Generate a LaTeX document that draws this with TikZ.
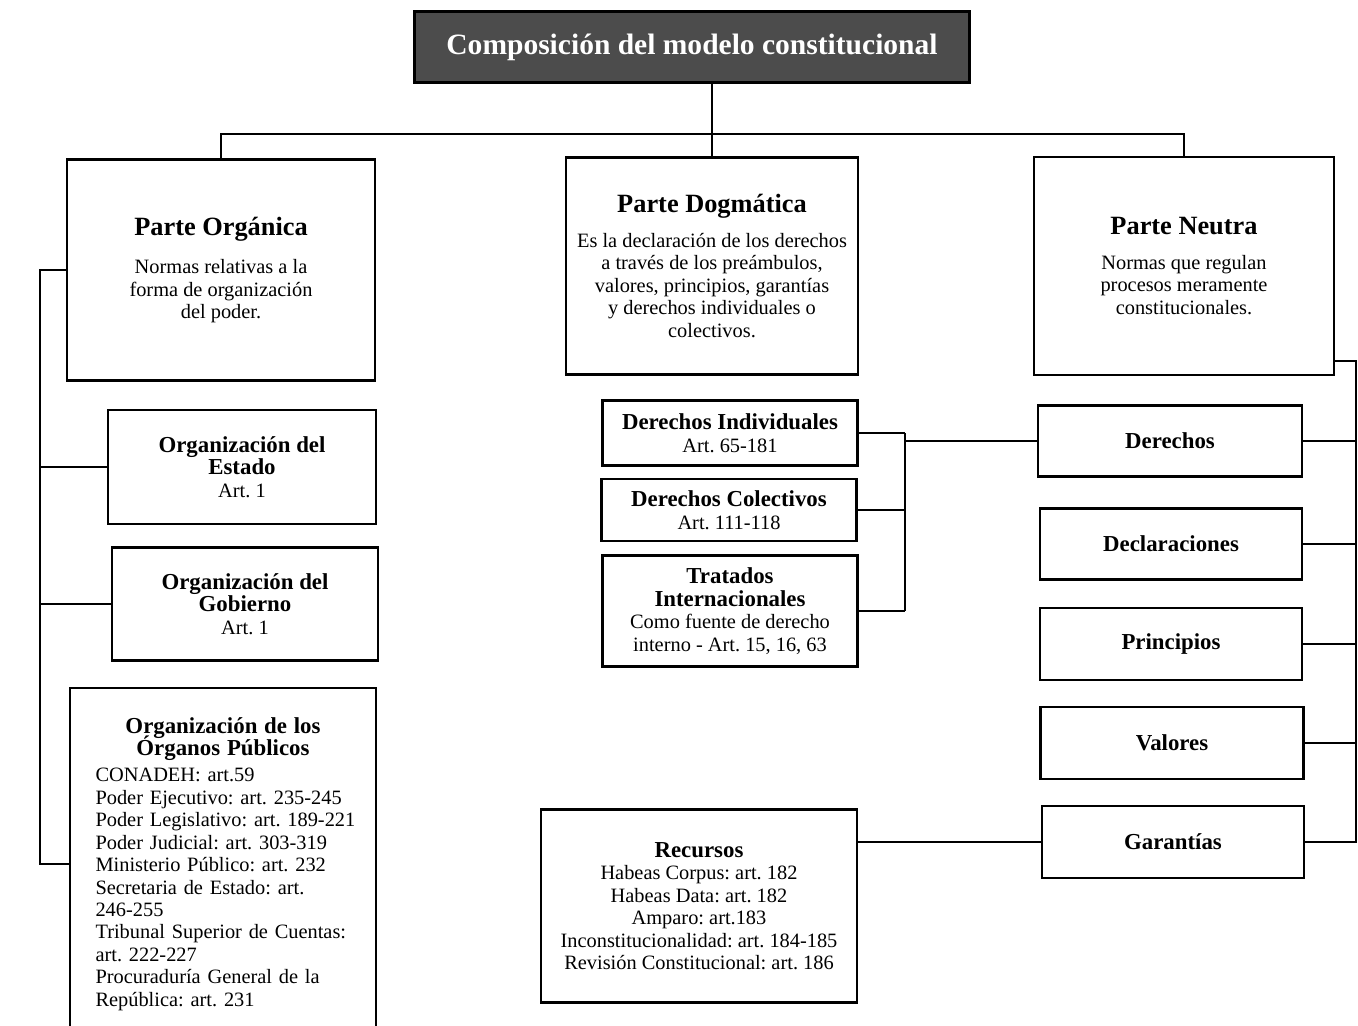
\documentclass[tikz,border=0pt]{standalone}
\usepackage{fontspec}
\setmainfont{Liberation Serif}
\usetikzlibrary{calc}
\newcommand{\apretado}{\lineskiplimit=-4pt\relax}
\tikzset{
  box/.style={draw, line width=1.3pt, align=center, inner sep=2pt,
    font=\fontsize{11.6}{12.8}\selectfont\frenchspacing\apretado},
  cabecera/.style={draw, line width=1.3pt, fill=black!70, text=white,
    font=\fontsize{16.8}{19}\selectfont\bfseries},
  enlace/.style={line width=1.1pt},
}
\newcommand{\cabtit}[1]{{\fontsize{15}{17}\selectfont\bfseries #1}}
\newcommand{\cabsub}[1]{{\fontsize{13}{13}\selectfont\bfseries #1}}

\begin{document}
\begin{tikzpicture}[x=0.02cm, y=-0.02cm]
\path[use as bounding box, clip] (0,0) rectangle (1358,1026);

\node[cabecera, minimum width=11.1cm, minimum height=1.42cm] (titulo) at (692,47)
  {Composición del modelo constitucional};

% las tres partes
\node[box, minimum width=6.16cm, minimum height=4.42cm] (organica) at (221,270)
  {\cabtit{Parte Orgánica}\\[9pt]Normas relativas a la\\forma de organización\\del poder.};
\node[box, minimum width=5.84cm, minimum height=4.34cm] (dogmatica) at (712,266)
  {\cabtit{Parte Dogmática}\\[7pt]Es la declaración de los derechos\\a través de los preámbulos,\\valores, principios, garantías\\y derechos individuales o\\colectivos.};
\node[box, minimum width=6.0cm, minimum height=4.36cm] (neutra) at (1184,266)
  {\cabtit{Parte Neutra}\\[7pt]Normas que regulan\\procesos meramente\\constitucionales.};

% parte organica
\node[box, minimum width=5.36cm, minimum height=2.28cm] (estado) at (242,467)
  {\cabsub{Organización del}\\\cabsub{Estado}\\Art. 1};
\node[box, minimum width=5.32cm, minimum height=2.26cm] (gobierno) at (245,604)
  {\cabsub{Organización del}\\\cabsub{Gobierno}\\Art. 1};
\node[draw, line width=1.3pt, inner sep=2pt,
  font=\fontsize{11.6}{12.8}\selectfont\frenchspacing\apretado,
  minimum width=6.12cm, minimum height=7.04cm, text width=5.5cm] (organos) at (223,864)
  {{\centering\cabsub{Organización de los\\Órganos Públicos}\par}
   \vspace{2pt}\raggedright\leftskip=0.2cm CONADEH: art.59\\Poder Ejecutivo: art. 235-245\\Poder Legislativo: art. 189-221\\Poder Judicial: art. 303-319\\Ministerio Público: art. 232\\Secretaria de Estado: art.\\246-255\\Tribunal Superior de Cuentas:\\art. 222-227\\Procuraduría General de la\\República: art. 231\par};

% parte dogmatica
\node[box, minimum width=5.1cm, minimum height=1.3cm] (dind) at (730,433)
  {\cabsub{Derechos Individuales}\\Art. 65-181};
\node[box, minimum width=5.1cm, minimum height=1.24cm] (dcol) at (729,510)
  {\cabsub{Derechos Colectivos}\\Art. 111-118};
\node[box, minimum width=5.1cm, minimum height=2.22cm] (tratados) at (730,611)
  {\cabsub{Tratados}\\\cabsub{Internacionales}\\Como fuente de derecho\\interno - Art. 15, 16, 63};
\node[box, minimum width=6.32cm, minimum height=3.86cm] (recursos) at (699,906)
  {\cabsub{Recursos}\\Habeas Corpus: art. 182\\Habeas Data: art. 182\\Amparo: art.183\\Inconstitucionalidad: art. 184-185\\Revisión Constitucional: art. 186};

% parte neutra
\node[box, minimum width=5.28cm, minimum height=1.42cm] (derechos) at (1170,441) {\cabsub{Derechos}};
\node[box, minimum width=5.24cm, minimum height=1.42cm] (declaraciones) at (1171,544) {\cabsub{Declaraciones}};
\node[box, minimum width=5.24cm, minimum height=1.44cm] (principios) at (1171,644) {\cabsub{Principios}};
\node[box, minimum width=5.26cm, minimum height=1.44cm] (valores) at (1172,743) {\cabsub{Valores}};
\node[box, minimum width=5.24cm, minimum height=1.44cm] (garantias) at (1173,842) {\cabsub{Garantías}};

% conectores
\coordinate (bus) at (712,134);
\coordinate (spinei) at (40,0);
\coordinate (llave) at (905,0);
\coordinate (spined) at (1356,0);

\draw[enlace] (titulo.south -| bus) -- (dogmatica.north);
\draw[enlace] (organica.north) |- (bus) -| (neutra.north);

\draw[enlace] (organica.west) -| (spinei |- organos.west) -- (organos.west);
\foreach \n in {estado,gobierno}
  \draw[enlace] (\n.west) -- (\n.west -| spinei);

\foreach \n in {dind,dcol,tratados}
  \draw[enlace] (\n.east) -- (\n.east -| llave);
\draw[enlace] (dind.east -| llave) -- (tratados.east -| llave);
\draw[enlace] (derechos.west -| llave) -- (derechos.west);
\draw[enlace] (recursos.east |- garantias.west) -- (garantias.west);

\draw[enlace] ([yshift=0.3cm]neutra.south east) -| (spined |- garantias.east) -- (garantias.east);
\foreach \n in {derechos,declaraciones,principios,valores}
  \draw[enlace] (\n.east) -- (\n.east -| spined);
\end{tikzpicture}
\end{document}
